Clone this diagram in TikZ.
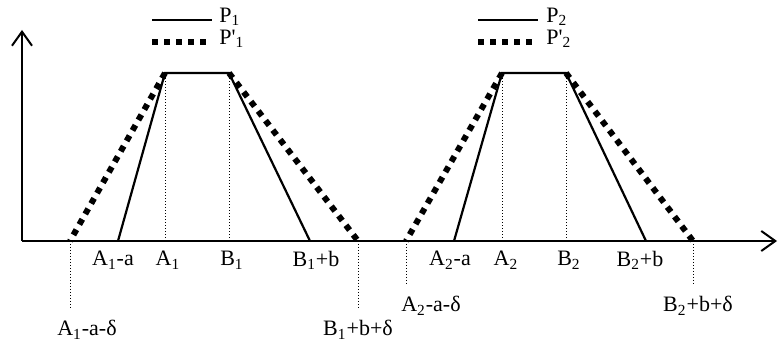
\documentclass[tikz,border=0pt]{standalone}
\usepackage{fontspec}
\setmainfont{Liberation Serif}
\usetikzlibrary{positioning, arrows.meta}

\begin{document}
\begin{tikzpicture}[
    x=0.5pt, y=-0.5pt,
    axis/.style={line width=1pt, -{Straight Barb[length=7pt, width=10pt]}},
    pline/.style={line width=1.1pt},
    pdash/.style={line width=3pt, dash pattern=on 3pt off 3pt},
    guide/.style={line width=0.5pt, dash pattern=on 0.5pt off 1pt},
    lbl/.style={font=\fontsize{11}{13}\selectfont, inner sep=1pt},
    leglbl/.style={font=\fontsize{11}{13}\selectfont, inner sep=1pt, yshift=1.5pt}
]
\useasboundingbox (0,0) rectangle (778,342);

% === Axes ===
\coordinate (o) at (22,241);
\coordinate (yend) at (22,30);
\coordinate (xend) at (777,241);
\draw[axis] (o) -- (yend);
\draw[axis] (o) -- (xend);

% === P1 ===
\coordinate (a1ad) at (70,241);
\coordinate (a1a) at (118,241);
\coordinate (a1) at (165,241);
\coordinate (b1) at (229,241);
\coordinate (b1b) at (310,241);
\coordinate (b1bd) at (358,241);
\coordinate (a1top) at (165,73);
\coordinate (b1top) at (229,73);
\coordinate (a1adlow) at (70,310);
\coordinate (b1bdlow) at (358,310);

\draw[pline] (a1a) -- (a1top) -- (b1top) -- (b1b);
\draw[pdash] (a1top) -- (a1ad);
\draw[pdash] (b1top) -- (b1bd);
\draw[guide] (a1) -- (a1top);
\draw[guide] (b1) -- (b1top);
\draw[guide] (a1ad) -- (a1adlow);
\draw[guide] (b1bd) -- (b1bdlow);

\node[lbl, below=4pt of a1a, xshift=-2.5pt] (la1a) {A\textsubscript{1}-a};
\node[lbl, below=4pt of a1, xshift=1.5pt] (la1) {A\textsubscript{1}};
\node[lbl, below=4pt of b1, xshift=1.5pt] (lb1) {B\textsubscript{1}};
\node[lbl, below=4pt of b1b, xshift=3pt] (lb1b) {B\textsubscript{1}+b};
\node[lbl, below=4pt of a1adlow, xshift=8.5pt] (la1ad) {A\textsubscript{1}-a-δ};
\node[lbl, below=4pt of b1bdlow] (lb1bd) {B\textsubscript{1}+b+δ};

% === P2 ===
\coordinate (a2ad) at (406,241);
\coordinate (a2a) at (454,241);
\coordinate (a2) at (502,241);
\coordinate (b2) at (566,241);
\coordinate (b2b) at (646,241);
\coordinate (b2bd) at (693,241);
\coordinate (a2top) at (502,73);
\coordinate (b2top) at (566,73);
\coordinate (a2adlow) at (406,286);
\coordinate (b2bdlow) at (693,286);

\draw[pline] (a2a) -- (a2top) -- (b2top) -- (b2b);
\draw[pdash] (a2top) -- (a2ad);
\draw[pdash] (b2top) -- (b2bd);
\draw[guide] (a2) -- (a2top);
\draw[guide] (b2) -- (b2top);
\draw[guide] (a2ad) -- (a2adlow);
\draw[guide] (b2bd) -- (b2bdlow);

\node[lbl, below=4pt of a2a, xshift=-2pt] (la2a) {A\textsubscript{2}-a};
\node[lbl, below=4pt of a2, xshift=2pt] (la2) {A\textsubscript{2}};
\node[lbl, below=4pt of b2, xshift=1.5pt] (lb2) {B\textsubscript{2}};
\node[lbl, below=4pt of b2b, xshift=-3pt] (lb2b) {B\textsubscript{2}+b};
\node[lbl, below=4pt of a2adlow, xshift=12.5pt] (la2ad) {A\textsubscript{2}-a-δ};
\node[lbl, below=4pt of b2bdlow, xshift=2.5pt] (lb2bd) {B\textsubscript{2}+b+δ};

% === Legends ===
\coordinate (g1s) at (152,20);
\coordinate (g1e) at (212,20);
\coordinate (g1ds) at (152,42);
\coordinate (g1de) at (206,42);
\draw[pline] (g1s) -- (g1e);
\draw[pdash] (g1ds) -- (g1de);
\node[leglbl, right=2.5pt of g1e] (gp1) {P\textsubscript{1}};
\node[leglbl, right=5.5pt of g1de] (gp1d) {P\textquotesingle\textsubscript{1}};

\coordinate (g2s) at (478,20);
\coordinate (g2e) at (538,20);
\coordinate (g2ds) at (478,42);
\coordinate (g2de) at (532,42);
\draw[pline] (g2s) -- (g2e);
\draw[pdash] (g2ds) -- (g2de);
\node[leglbl, right=3pt of g2e] (gp2) {P\textsubscript{2}};
\node[leglbl, right=6pt of g2de] (gp2d) {P\textquotesingle\textsubscript{2}};

\end{tikzpicture}
\end{document}
